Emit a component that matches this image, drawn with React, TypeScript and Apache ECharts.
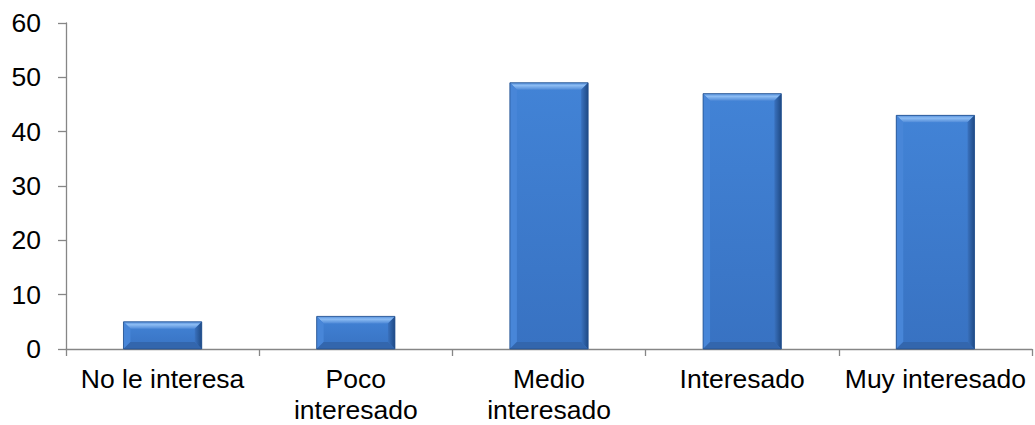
import React, { useEffect, useRef } from "react";
import * as echarts from "echarts";

const categories = ["No le interesa", "Poco\ninteresado", "Medio\ninteresado", "Interesado", "Muy interesado"];
const values = [5, 6, 49, 47, 43];
const yTicks = { min: 0, max: 60, interval: 10 };

export default function App() {
  const ref = useRef<HTMLDivElement>(null);
  useEffect(() => {
    document.body.style.margin = "0";
    const chart = echarts.init(ref.current!, null, { renderer: "svg" });
    const font = "'Liberation Sans', Arial, sans-serif";
    chart.setOption({
      animation: false,
      grid: { left: 66, right: 3, top: 23, bottom: 76, containLabel: false, outerBoundsMode: "none" },
      xAxis: {
        type: "category",
        data: categories,
        boundaryGap: true,
        axisLine: { lineStyle: { color: "#868686", width: 1.3 } },
        axisTick: { show: true, length: 7, alignWithLabel: false, lineStyle: { color: "#868686", width: 1.3 } },
        axisLabel: { color: "#000", fontSize: 26.5, fontFamily: font, margin: 14, lineHeight: 31, interval: 0 },
      },
      yAxis: {
        type: "value",
        min: yTicks.min,
        max: yTicks.max,
        interval: yTicks.interval,
        axisLine: { show: true, lineStyle: { color: "#868686", width: 1.3 } },
        axisTick: { show: true, length: 8, lineStyle: { color: "#868686", width: 1.3 } },
        splitLine: { show: false },
        axisLabel: { color: "#000", fontSize: 26.5, fontFamily: font, margin: 25 },
      },
      series: [
        {
          type: "custom",
          data: values.map((v, i) => [i, v]),
          encode: { x: 0, y: 1 },
          renderItem: (params: any, api: any) => {
            const i = api.value(0);
            const v = api.value(1);
            const top = api.coord([i, v]);
            const bot = api.coord([i, 0]);
            const bw = api.size([1, 0])[0] * 0.405;
            const x0 = top[0] - bw / 2;
            const x1 = top[0] + bw / 2;
            const y0 = top[1];
            const y1 = bot[1];
            const b = Math.min(7, (y1 - y0) / 2);
            return {
              type: "group",
              children: [
                {
                  type: "rect",
                  shape: { x: x0, y: y0, width: bw, height: y1 - y0 },
                  style: {
                    fill: new echarts.graphic.LinearGradient(0, 0, 0, 1, [
                      { offset: 0, color: "#4283d6" },
                      { offset: 1, color: "#3872c2" },
                    ]),
                  },
                },
                {
                  type: "polygon",
                  shape: { points: [[x0, y0], [x1, y0], [x1 - b, y0 + b], [x0 + b, y0 + b]] },
                  style: {
                    fill: new echarts.graphic.LinearGradient(0, 0, 0, 1, [
                      { offset: 0, color: "#5590dc" },
                      { offset: 0.4, color: "#8cbcf3" },
                      { offset: 1, color: "#4f8ad8" },
                    ]),
                  },
                },
                {
                  type: "polygon",
                  shape: { points: [[x0, y0], [x0 + b, y0 + b], [x0 + b, y1 - b], [x0, y1]] },
                  style: { fill: "#4886d8" },
                },
                {
                  type: "polygon",
                  shape: { points: [[x1, y0], [x1, y1], [x1 - b, y1 - b], [x1 - b, y0 + b]] },
                  style: {
                    fill: new echarts.graphic.LinearGradient(0, 0, 1, 0, [
                      { offset: 0, color: "#3a72bf" },
                      { offset: 1, color: "#1f4a85" },
                    ]),
                  },
                },
                {
                  type: "polygon",
                  shape: { points: [[x0, y1], [x1, y1], [x1 - b, y1 - b], [x0 + b, y1 - b]] },
                  style: { fill: "#3366ad" },
                },
                {
                  type: "rect",
                  shape: { x: x0, y: y0, width: bw, height: y1 - y0 },
                  style: { fill: "none", stroke: "#234f8c", lineWidth: 0.8 },
                },
              ],
            };
          },
        },
      ],
    });
    return () => chart.dispose();
  }, []);
  return <div ref={ref} style={{ width: 1035, height: 425 }} />;
}
